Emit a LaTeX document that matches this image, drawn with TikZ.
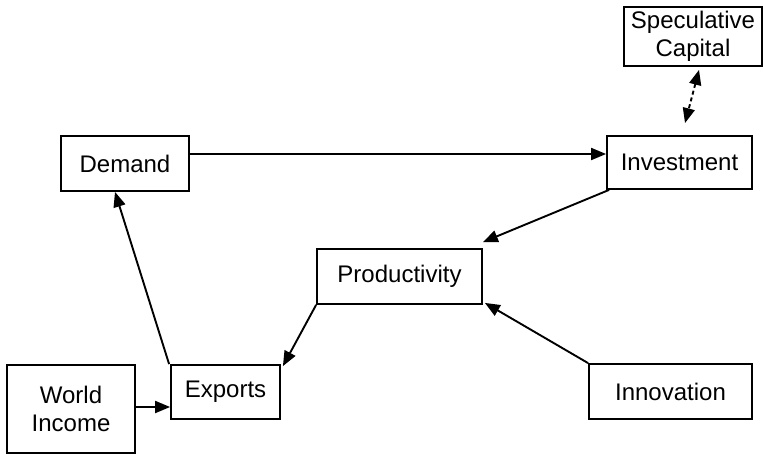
\documentclass[tikz,border=0pt]{standalone}
\usepackage{fontspec}
\setmainfont{Liberation Sans}
\usetikzlibrary{arrows.meta}
\begin{document}
\begin{tikzpicture}[x=1pt,y=-1pt,
  box/.style={draw,line width=1.8pt,rectangle,inner sep=0pt,align=center,
    font=\fontsize{24}{28}\selectfont},
  arr/.style={line width=1.9pt,-{Triangle[length=15pt,width=12pt]}},
  darr/.style={line width=1.9pt,dash pattern=on 4pt off 3pt,{Triangle[length=15pt,width=12pt]}-{Triangle[length=15pt,width=12pt]}}]
\useasboundingbox (0,0) rectangle (763,455);
\node[box,minimum width=138pt,minimum height=59pt] (spec) at (693,36.5) {Speculative\\Capital};
\node[box,minimum width=145pt,minimum height=53pt] (inv) at (679.5,162.5) {Investment};
\node[box,minimum width=128pt,minimum height=55pt] (dem) at (125,163.5) {Demand};
\node[box,minimum width=165pt,minimum height=55pt] (prod) at (399.5,276.5) {Productivity};
\node[box,minimum width=128pt,minimum height=88pt] (world) at (71,409) {World\\Income};
\node[box,minimum width=109pt,minimum height=54pt] (exp) at (225.5,392) {Exports};
\node[box,minimum width=163pt,minimum height=55pt] (inn) at (670.5,391.5) {Innovation};
\draw[arr] ([yshift=9.5pt]dem.east) -- ([yshift=9.5pt]dem.east -| inv.west);
\draw[arr] ([xshift=3pt]inv.south west) -- ([yshift=6pt]prod.north east);
\draw[arr] (prod.south west) -- ([xshift=2pt,yshift=-2pt]exp.north east);
\draw[arr] (inn.north west) -- ([xshift=2pt,yshift=2pt]prod.south east);
\draw[arr] ([xshift=-1pt]exp.north west) -- ([xshift=-10pt]dem.south);
\draw[arr] ([yshift=2pt]world.east) -- ([yshift=2pt]world.east -| exp.west);
\draw[darr] ([xshift=6pt,yshift=-3pt]spec.south) -- ([xshift=5.5pt,yshift=12pt]inv.north);
\end{tikzpicture}
\end{document}
